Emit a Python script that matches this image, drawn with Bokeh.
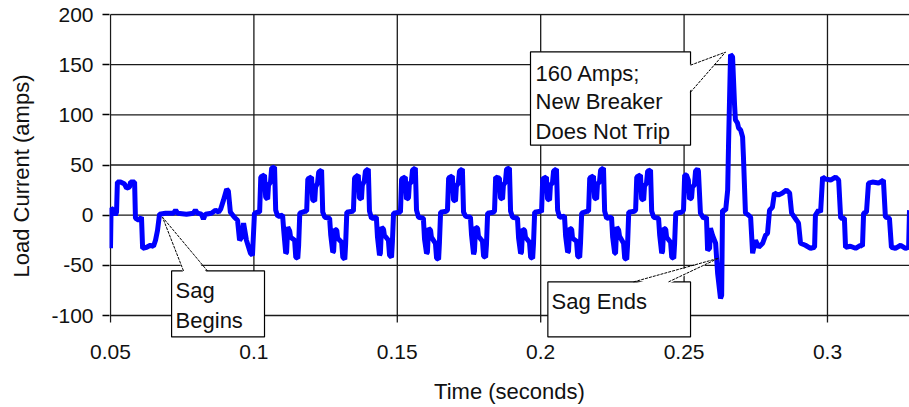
from bokeh.plotting import figure
from bokeh.models import FixedTicker, Range1d
from bokeh.embed import file_html
from bokeh.resources import INLINE
from bokeh.core.properties import value

# ---------------- data ----------------
x_ticks = [0.05, 0.1, 0.15, 0.2, 0.25, 0.3]
x_tick_labels = ["0.05", "0.1", "0.15", "0.2", "0.25", "0.3"]
y_ticks = [-100, -50, 0, 50, 100, 150, 200]
y_tick_labels = ["-100", "-50", "0", "50", "100", "150", "200"]

# start of record and the sag (seconds, amps)
sag_t = [0.0500, 0.0502, 0.0510, 0.0517, 0.0521, 0.0524, 0.0535, 0.0549, 0.0556, 0.0566,
         0.0570, 0.0584, 0.0587, 0.0598, 0.0608, 0.0612, 0.0626, 0.0639, 0.0650, 0.0657,
         0.0664, 0.0671, 0.0692, 0.0720, 0.0727, 0.0734, 0.0765, 0.0789, 0.0796, 0.0803,
         0.0817, 0.0824, 0.0831, 0.0852, 0.0866, 0.0877, 0.0884, 0.0894, 0.0905, 0.0911,
         0.0918, 0.0932, 0.0943, 0.0950, 0.0957, 0.0964, 0.0974, 0.0988, 0.0995, 0.1002,
         0.1013]
sag_a = [-33, 7, 5, 0, 3, 33, 33, 31, 27, 28,
         33, 33, -3, -5, -2, -33, -32, -30, -31, -25,
         -15, 1, 2, 2, 5, 2, 1, 2, 5, 2,
         1, -4, 1, 2, 5, 3, 6, 15, 26, 24,
         3, -2, -5, -25, -22, -8, -25, -38, -40, 2,
         3]

# cycles during the sag (one row per cycle)
cycle_t = [
    [0.1020, 0.1024, 0.1037, 0.1041, 0.1048, 0.1051, 0.1058, 0.1062, 0.1072, 0.1076, 0.1083, 0.1100,
     0.1104, 0.1111, 0.1114, 0.1118, 0.1125, 0.1128, 0.1142, 0.1146, 0.1153, 0.1156, 0.1160, 0.1180],
    [0.1184, 0.1188, 0.1201, 0.1205, 0.1212, 0.1215, 0.1222, 0.1226, 0.1236, 0.1240, 0.1247, 0.1264,
     0.1268, 0.1275, 0.1278, 0.1282, 0.1289, 0.1292, 0.1306, 0.1310, 0.1317, 0.1320, 0.1324, 0.1344],
    [0.1347, 0.1351, 0.1364, 0.1368, 0.1375, 0.1378, 0.1385, 0.1389, 0.1399, 0.1403, 0.1410, 0.1427,
     0.1431, 0.1438, 0.1441, 0.1445, 0.1452, 0.1455, 0.1469, 0.1473, 0.1480, 0.1483, 0.1487, 0.1507],
    [0.1511, 0.1515, 0.1528, 0.1532, 0.1539, 0.1542, 0.1549, 0.1553, 0.1563, 0.1567, 0.1574, 0.1591,
     0.1595, 0.1602, 0.1605, 0.1609, 0.1616, 0.1619, 0.1633, 0.1637, 0.1644, 0.1647, 0.1651, 0.1671],
    [0.1675, 0.1679, 0.1692, 0.1696, 0.1703, 0.1706, 0.1713, 0.1717, 0.1727, 0.1731, 0.1738, 0.1755,
     0.1759, 0.1766, 0.1769, 0.1773, 0.1780, 0.1783, 0.1797, 0.1801, 0.1808, 0.1811, 0.1815, 0.1835],
    [0.1839, 0.1843, 0.1856, 0.1860, 0.1867, 0.1870, 0.1877, 0.1881, 0.1891, 0.1895, 0.1902, 0.1919,
     0.1923, 0.1930, 0.1933, 0.1937, 0.1944, 0.1947, 0.1961, 0.1965, 0.1972, 0.1975, 0.1979, 0.1999],
    [0.2003, 0.2007, 0.2020, 0.2024, 0.2031, 0.2034, 0.2041, 0.2045, 0.2055, 0.2059, 0.2066, 0.2083,
     0.2087, 0.2094, 0.2097, 0.2101, 0.2108, 0.2111, 0.2125, 0.2129, 0.2136, 0.2139, 0.2143, 0.2163],
    [0.2167, 0.2171, 0.2184, 0.2188, 0.2195, 0.2198, 0.2205, 0.2209, 0.2219, 0.2223, 0.2230, 0.2247,
     0.2251, 0.2258, 0.2261, 0.2265, 0.2272, 0.2275, 0.2289, 0.2293, 0.2300, 0.2303, 0.2307, 0.2327],
    [0.2331, 0.2335, 0.2348, 0.2352, 0.2359, 0.2362, 0.2369, 0.2373, 0.2383, 0.2387, 0.2394, 0.2411,
     0.2415, 0.2422, 0.2425, 0.2429, 0.2436, 0.2439, 0.2453, 0.2457, 0.2464, 0.2467, 0.2471, 0.2491],
]
cycle_a = [
    [3, 38, 40, 18, 16, 30, 33, 47, 48, 5, -1, 0, -15, -38, -37, -12, -16, -22, -25, -42, -43, -30, 2, 4],
    [4, 36, 38, 15, 14, 28, 32, 43, 45, 3, -2, -3, -20, -37, -36, -14, -15, -23, -27, -42, -44, -28, 3, 4],
    [4, 37, 40, 17, 16, 30, 34, 44, 46, 4, -3, -2, -22, -40, -38, -12, -14, -20, -25, -40, -42, -26, 2, 3],
    [3, 36, 38, 16, 17, 31, 33, 45, 47, 5, -2, -3, -24, -38, -37, -13, -15, -22, -28, -43, -44, -27, 3, 4],
    [5, 37, 39, 15, 14, 29, 32, 44, 46, 3, -1, -2, -20, -39, -36, -12, -13, -21, -26, -41, -42, -29, 2, 3],
    [4, 38, 37, 17, 16, 30, 33, 46, 47, 4, -2, -3, -23, -38, -37, -14, -15, -22, -27, -42, -43, -28, 3, 4],
    [3, 36, 38, 16, 15, 30, 32, 44, 46, 5, -2, -1, -21, -37, -36, -13, -14, -23, -26, -41, -42, -27, 2, 4],
    [4, 37, 39, 17, 16, 31, 33, 45, 47, 4, -3, -2, -22, -38, -38, -12, -15, -21, -28, -43, -44, -29, 3, 4],
    [5, 38, 40, 16, 15, 29, 32, 44, 45, 4, -2, -3, -20, -38, -36, -13, -14, -22, -27, -42, -43, -28, 2, 3],
]

# sag ends: inrush spike
spike_t = [0.2498, 0.2502, 0.2508, 0.2515, 0.2519, 0.2526, 0.2529, 0.2536, 0.2540, 0.2547,
           0.2550, 0.2557, 0.2568, 0.2578, 0.2582, 0.2589, 0.2592, 0.2599, 0.2610, 0.2617,
           0.2627, 0.2631, 0.2634, 0.2645, 0.2652, 0.2655, 0.2662, 0.2669, 0.2676, 0.2679,
           0.2686, 0.2690, 0.2697, 0.2704, 0.2707, 0.2714, 0.2725, 0.2732]
spike_a = [5, 40, 40, 35, 16, 17, 28, 30, 44, 46,
           44, 2, -3, -2, -35, -33, -13, -20, -28, -58,
           -83, -80, 5, 5, 25, 70, 160, 158, 110, 95,
           92, 87, 85, 78, 58, 2, 0, -2]

# after the sag
post_t = [0.2739, 0.2749, 0.2760, 0.2774, 0.2784, 0.2791, 0.2798, 0.2808, 0.2815, 0.2829,
          0.2843, 0.2857, 0.2868, 0.2875, 0.2892, 0.2899, 0.2906, 0.2923, 0.2941, 0.2955,
          0.2958, 0.2969, 0.2976, 0.2983, 0.2993, 0.3011, 0.3028, 0.3039, 0.3046, 0.3059,
          0.3063, 0.3080, 0.3098, 0.3115, 0.3122, 0.3126, 0.3136, 0.3143, 0.3157, 0.3178,
          0.3195, 0.3202, 0.3216, 0.3223, 0.3237, 0.3255, 0.3272, 0.3283, 0.3286]
post_a = [-38, -25, -32, -28, -20, -18, 5, 8, 22, 20,
          22, 25, 22, 2, -5, -8, -28, -30, -33, -32,
          0, 5, 3, 38, 36, 35, 38, 35, -3, -3,
          -32, -31, -33, -30, -31, 2, 3, 32, 33, 32,
          35, -2, -3, -32, -33, -30, -33, -32, 5]

callout_lines = ["Sag", "Begins", "160 Amps;", "New Breaker", "Does Not Trip", "Sag Ends"]

# ---------------- assemble series ----------------
time_s = list(sag_t)
current_a = list(sag_a)
for ct, ca in zip(cycle_t, cycle_a):
    time_s += ct
    current_a += ca
time_s += spike_t + post_t
current_a += spike_a + post_a

FONT = "Liberation Sans"
INK = "#111111"

p = figure(width=909, height=407, output_backend="svg", toolbar_location=None,
           x_range=Range1d(0.04965, 0.3286), y_range=Range1d(-122.9, 201),
           min_border_left=109, min_border_right=0, min_border_top=13, min_border_bottom=69)
p.outline_line_color = None
p.xgrid.visible = False
p.ygrid.visible = False
p.background_fill_color = "white"
p.border_fill_color = "white"

# x axis (labels only; ticks drawn with grid)
xa = p.xaxis[0]
xa.ticker = FixedTicker(ticks=x_ticks)
xa.major_label_overrides = {t: l for t, l in zip(x_ticks, x_tick_labels)}
xa.axis_line_color = None
xa.major_tick_line_color = None
xa.minor_tick_line_color = None
xa.major_label_standoff = 0
xa.major_label_text_font = FONT
xa.major_label_text_font_size = "21px"
xa.major_label_text_color = INK
xa.axis_label = "Time (seconds)"
xa.axis_label_standoff = 17
xa.axis_label_text_font = FONT
xa.axis_label_text_font_size = "22px"
xa.axis_label_text_font_style = "normal"
xa.axis_label_text_color = INK

ya = p.yaxis[0]
ya.ticker = FixedTicker(ticks=y_ticks)
ya.major_label_overrides = {t: l for t, l in zip(y_ticks, y_tick_labels)}
ya.axis_line_color = None
ya.major_tick_line_color = "black"
ya.major_tick_line_width = 1.3
ya.major_tick_out = 7
ya.major_tick_in = 0
ya.minor_tick_line_color = None
ya.major_label_standoff = 9
ya.major_label_text_font = FONT
ya.major_label_text_font_size = "21px"
ya.major_label_text_color = INK
ya.axis_label = "Load Current (amps)"
ya.axis_label_standoff = 14
ya.axis_label_text_font = FONT
ya.axis_label_text_font_size = "22px"
ya.axis_label_text_font_style = "normal"
ya.axis_label_text_color = INK

# grid lines (also serve as axis lines and x ticks)
GRID = "#1a1a1a"
p.segment(x0=x_ticks, y0=[-107] * len(x_ticks), x1=x_ticks, y1=[200] * len(x_ticks),
          line_color=GRID, line_width=1.3)
p.segment(x0=[0.05] * len(y_ticks), y0=y_ticks, x1=[0.3286] * len(y_ticks), y1=y_ticks,
          line_color=GRID, line_width=1.3)

# waveform
p.line(time_s, current_a, line_color="#0000FF", line_width=5)

# callout boxes
p.quad(left=[0.0713, 0.19645, 0.2025], right=[0.1037, 0.25225, 0.25225],
       top=[-55.6, 162.8, -66.5], bottom=[-121.3, 69.8, -121.3],
       fill_color="white", line_color="black", line_width=1.2)
# callout pointers (white wedge + thin edges)
p.patches(xs=[[0.07546, 0.06813, 0.08382], [0.2516, 0.26445, 0.2516], [0.23237, 0.26201, 0.24457]],
          ys=[[-57.8, -2.0, -57.8], [149.5, 162.5, 122.6], [-68.7, -42.9, -68.7]],
          fill_color="white", line_color=None)
p.segment(x0=[0.07546, 0.08382, 0.25225, 0.25225, 0.23237, 0.24457],
          y0=[-55.6, -55.6, 149.5, 122.6, -66.5, -66.5],
          x1=[0.06813, 0.06813, 0.26445, 0.26445, 0.26201, 0.26201],
          y1=[-2.0, -2.0, 162.5, 162.5, -42.9, -42.9],
          line_color="black", line_width=1, line_dash="3 1")

p.text(x=[0.0727, 0.0727, 0.1982, 0.1982, 0.1982, 0.2038],
       y=[-75.2, -105.2, 141.0, 113.1, 83.2, -86.2],
       text=callout_lines, text_font=value(FONT), text_font_size="22px",
       text_align="left", text_baseline="middle", text_color=INK)

open("out.html", "w").write(file_html(p, INLINE))
